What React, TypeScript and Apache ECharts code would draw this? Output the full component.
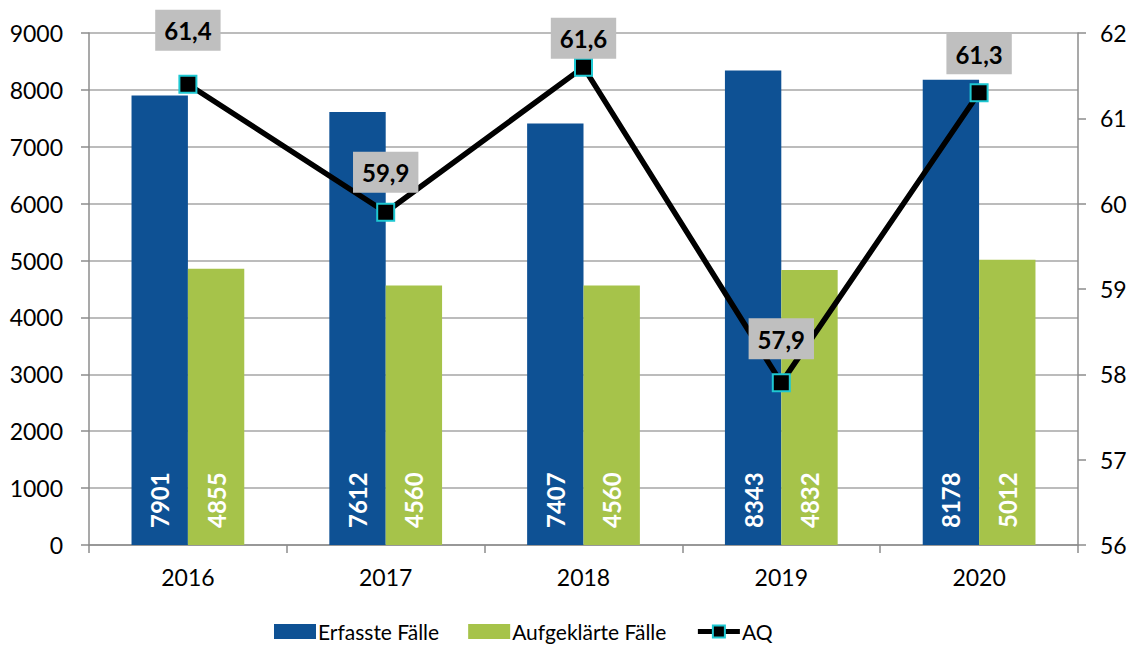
import React, { useEffect, useRef } from "react";
import * as echarts from "echarts";

const years = ["2016", "2017", "2018", "2019", "2020"];
const erfasst = [7901, 7612, 7407, 8343, 8178];
const aufgeklaert = [4855, 4560, 4560, 4832, 5012];
const aq = [61.4, 59.9, 61.6, 57.9, 61.3];
// extra vertical lift (px) of each AQ label box, as placed in the source chart
const aqLabelLift = [14, 0, -11, 4, -1];

const FONT = "Lato, 'Open Sans', sans-serif";

export default function App() {
  const ref = useRef<HTMLDivElement>(null);
  useEffect(() => {
    const chart = echarts.init(ref.current!, null, { renderer: "svg" });
    const barLabel = {
      show: true,
      position: "insideBottom",
      distance: 17,
      rotate: 90,
      align: "left",
      verticalAlign: "middle",
      color: "#fff",
      fontWeight: "bold",
      fontSize: 24,
      fontFamily: FONT,
    };
    chart.setOption({
      animation: false,
      backgroundColor: "#fff",
      textStyle: { fontFamily: FONT },
      grid: { left: 89, right: 54, top: 33, bottom: 100, containLabel: false },
      legend: {
        top: 616,
        left: 269,
        itemGap: 29,
        itemWidth: 42,
        itemHeight: 15,
        textStyle: { fontSize: 21, color: "#000", fontFamily: FONT, padding: [0, 0, 0, -3] },
        data: [
          { name: "Erfasste Fälle", icon: "rect" },
          { name: "Aufgeklärte Fälle", icon: "rect" },
          { name: "AQ", lineStyle: { width: 5, color: "#000" }, itemStyle: { color: "#000", borderColor: "#1ec8d2", borderWidth: 2 } },
        ],
      },
      xAxis: {
        type: "category",
        data: years,
        axisLine: { lineStyle: { color: "#8c8c8c", width: 1.5 } },
        axisTick: { show: true, length: 8, lineStyle: { color: "#8c8c8c", width: 1.5 } },
        axisLabel: { fontSize: 23, color: "#000", margin: 20, fontFamily: FONT },
      },
      yAxis: [
        {
          type: "value",
          min: 0,
          max: 9000,
          interval: 1000,
          axisLine: { show: true, lineStyle: { color: "#8c8c8c", width: 1.5 } },
          axisTick: { show: true, length: 8, lineStyle: { color: "#8c8c8c", width: 1.5 } },
          splitLine: { show: true, lineStyle: { color: "#a6a6a6", width: 1.5 } },
          axisLabel: { fontSize: 23, color: "#000", margin: 26, fontFamily: FONT, formatter: (v: number) => String(v) },
        },
        {
          type: "value",
          min: 56,
          max: 62,
          interval: 1,
          axisLine: { show: true, lineStyle: { color: "#8c8c8c", width: 1.5 } },
          axisTick: { show: true, length: 8, lineStyle: { color: "#8c8c8c", width: 1.5 } },
          splitLine: { show: false },
          axisLabel: { fontSize: 23, color: "#000", margin: 22, fontFamily: FONT },
        },
      ],
      series: [
        {
          name: "Erfasste Fälle",
          type: "bar",
          data: erfasst,
          barGap: "0%",
          barCategoryGap: "43%",
          itemStyle: { color: "#0e5194" },
          label: barLabel,
        },
        {
          name: "Aufgeklärte Fälle",
          type: "bar",
          data: aufgeklaert,
          itemStyle: { color: "#a6c34a" },
          label: barLabel,
        },
        {
          name: "AQ",
          type: "line",
          yAxisIndex: 1,
          data: aq.map((v, i) => ({ value: v, label: { offset: [0, -aqLabelLift[i]] } })),
          symbol: "rect",
          symbolSize: 17,
          lineStyle: { color: "#000", width: 5.5 },
          itemStyle: { color: "#000", borderColor: "#1ec8d2", borderWidth: 2 },
          z: 5,
          label: {
            show: true,
            position: "top",
            distance: 10,
            formatter: (p: any) => String(p.value).replace(".", ","),
            backgroundColor: "#bfbfbf",
            padding: [7, 9, 6, 9],
            lineHeight: 28,
            color: "#000",
            fontWeight: "bold",
            fontSize: 24,
            fontFamily: FONT,
          },
        },
      ],
    });
    return () => chart.dispose();
  }, []);
  return (
    <div
      ref={ref}
      style={{ position: "fixed", left: 0, top: 0, width: 1132, height: 645 }}
    />
  );
}
